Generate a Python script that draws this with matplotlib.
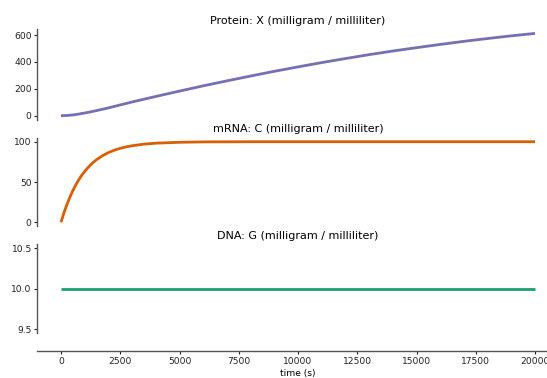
import matplotlib
matplotlib.use("Agg")
import matplotlib.pyplot as plt

# ---- data ----
t_protein = [0, 250, 500, 750, 1000, 1250, 1500, 2000, 2500, 3000, 3500, 4000, 5000,
             6000, 7000, 8000, 9000, 10000, 11000, 12000, 13000, 14000, 15000,
             16000, 17000, 18000, 19000, 20000]
protein_X = [0, 1.5, 5.5, 12, 20, 28.5, 38, 58, 80, 102, 122.5, 143, 183,
             222, 259, 295, 330, 363, 395, 425, 454, 481, 506,
             530, 553, 574, 594, 612]

t_mrna = [0, 125, 250, 375, 500, 625, 750, 875, 1000, 1125, 1250, 1375, 1500,
          1750, 2000, 2250, 2500, 2750, 3000, 3500, 4000, 5000, 6000, 8000,
          10000, 15000, 20000]
mrna_C = [0, 11.8, 22, 31.2, 39.3, 46.5, 52.8, 58.3, 63.2, 67.5, 71.3, 74.7, 77.7,
          82.6, 86.5, 89.5, 91.8, 93.6, 95, 97, 98.2, 99.3, 99.8, 100,
          100, 100, 100]

t_dna = [0, 20000]
dna_G = [10.0, 10.0]

titles = ["Protein: X (milligram / milliliter)",
          "mRNA: C (milligram / milliliter)",
          "DNA: G (milligram / milliliter)"]
xticks = [0, 2500, 5000, 7500, 10000, 12500, 15000, 17500, 20000]
yticks_protein = [0, 200, 400, 600]
yticks_mrna = [0, 50, 100]
yticks_dna = [9.5, 10.0, 10.5]
xlabel = "time (s)"

colors = ["#7570b3", "#d95f02", "#1b9e77"]

W, H = 547, 378
fig = plt.figure(figsize=(W / 100, H / 100), dpi=100)

left = 37.3 / W
width = (558.7 - 37.3) / W
rects = [(29.3, 119.8), (137.7, 226.3), (244.2, 333.4)]
axes = []
for i, (top, bot) in enumerate(rects):
    if i == 0:
        ax = fig.add_axes([left, 1 - bot / H, width, (bot - top) / H])
    else:
        ax = fig.add_axes([left, 1 - bot / H, width, (bot - top) / H], sharex=axes[0])
    axes.append(ax)

series = [(t_protein, protein_X, yticks_protein),
          (t_mrna, mrna_C, yticks_mrna),
          (t_dna, dna_G, yticks_dna)]

spine_color = "#555555"
for i, (ax, (tx, ty, yt)) in enumerate(zip(axes, series)):
    ax.plot(tx, ty, color=colors[i], lw=2.0, solid_capstyle="butt",
            solid_joinstyle="round")
    ax.set_yticks(yt)
    if i == 2:
        ax.set_yticklabels(["%.1f" % v for v in yt])
    ax.set_title(titles[i], fontsize=8, pad=4)
    for s in ["top", "right"]:
        ax.spines[s].set_visible(False)
    ax.spines["left"].set_color(spine_color)
    ax.spines["left"].set_linewidth(1.0)
    ax.tick_params(axis="y", labelsize=6.6, length=2.5, width=0.8, pad=1.5,
                   colors="#222222")
    if i < 2:
        ax.spines["bottom"].set_visible(False)
        ax.tick_params(axis="x", bottom=False, labelbottom=False)
    else:
        ax.spines["bottom"].set_color(spine_color)
        ax.spines["bottom"].set_linewidth(1.0)
        ax.spines["bottom"].set_position(("outward", 12.7))
        ax.set_xticks(xticks)
        ax.set_xticklabels([str(v) for v in xticks])
        ax.tick_params(axis="x", labelsize=6.6, length=2.5, width=0.8, pad=1.5,
                       colors="#222222")
        ax.set_xlabel(xlabel, fontsize=6.6, labelpad=2.5)

axes[0].set_xlim(-1000, 21000)

fig.savefig("out.png", dpi=100)
